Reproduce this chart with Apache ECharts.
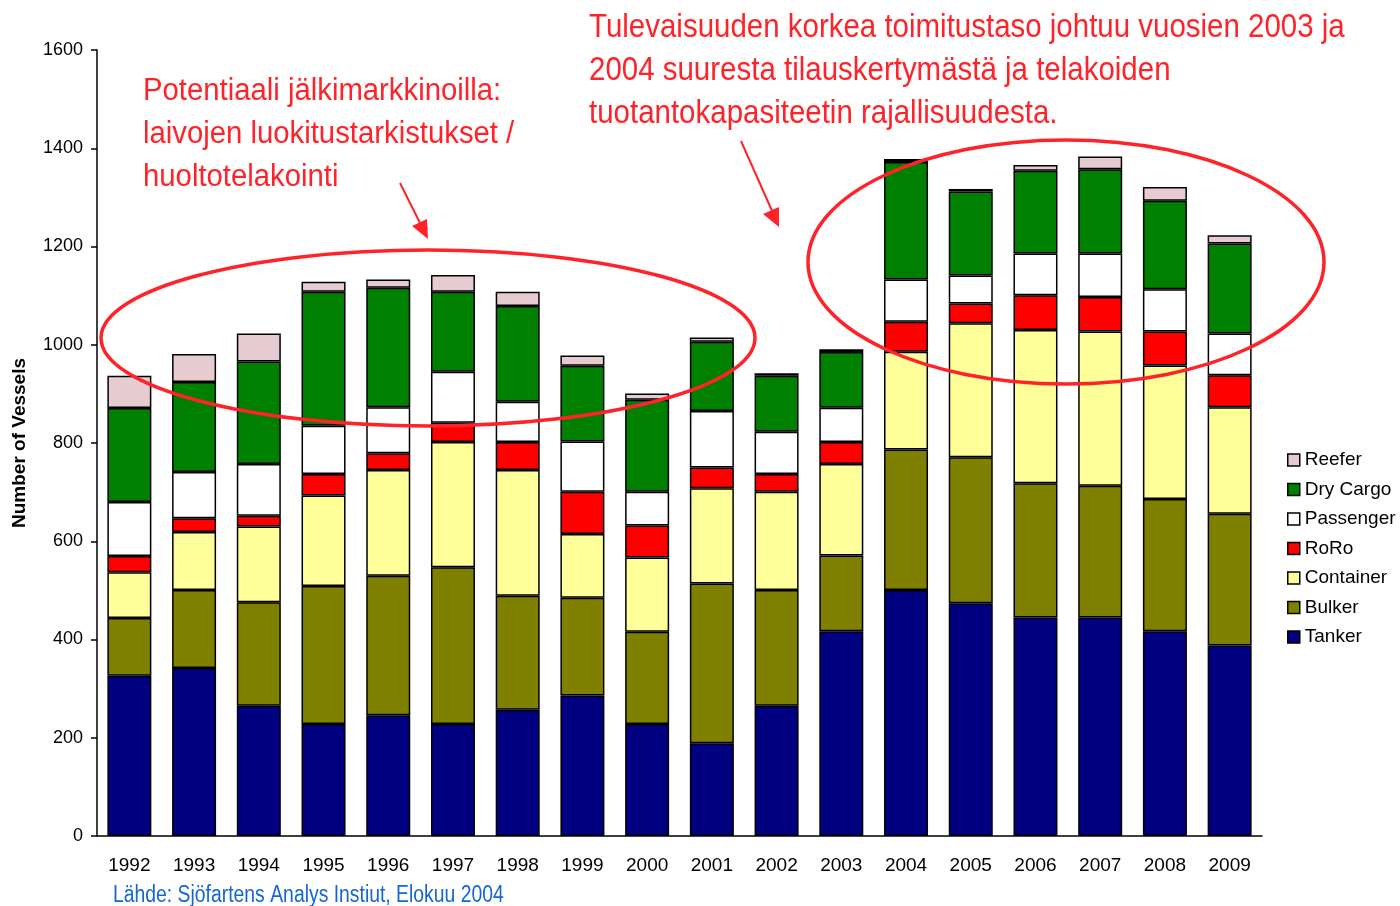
<!DOCTYPE html>
<html>
<head>
<meta charset="utf-8">
<script src="https://cdn.jsdelivr.net/npm/echarts@6/dist/echarts.min.js"></script>
<style>
  html, body { margin: 0; padding: 0; background: #fff; }
  #chart { width: 1400px; height: 906px; }
</style>
</head>
<body>
<div id="chart"></div>
<script>
  const years = ["1992", "1993", "1994", "1995", "1996", "1997", "1998", "1999", "2000",
    "2001", "2002", "2003", "2004", "2005", "2006", "2007", "2008", "2009"];

  // vessels per type, bottom to top of the stack
  const tanker    = [326, 342, 265, 228, 246, 228, 257, 286, 228, 189, 265, 417, 501, 474, 445, 445, 417, 388];
  const bulker    = [118, 159, 211, 281, 284, 319, 232, 199, 188, 325, 236, 154, 286, 297, 273, 268, 269, 268];
  const container = [93, 118, 154, 184, 215, 255, 256, 130, 151, 194, 200, 186, 199, 273, 312, 314, 272, 217];
  const roro      = [33, 28, 22, 44, 34, 39, 57, 86, 65, 42, 36, 45, 61, 40, 71, 70, 69, 65];
  const passenger = [110, 94, 105, 98, 94, 104, 82, 102, 69, 115, 86, 70, 86, 57, 85, 89, 86, 85];
  const dryCargo  = [191, 183, 209, 273, 243, 163, 195, 154, 187, 141, 114, 113, 239, 171, 168, 171, 180, 183];
  const reefer    = [66, 57, 57, 20, 17, 34, 29, 21, 13, 9, 5, 6, 6, 5, 12, 26, 28, 17];

  const yTicks = [0, 200, 400, 600, 800, 1000, 1200, 1400, 1600];

  const plain = "'Liberation Sans', Arial, sans-serif";
  const red = "#ff2228";

  const seriesDefs = [
    { name: "Tanker", data: tanker, color: "#000080" },
    { name: "Bulker", data: bulker, color: "#808000" },
    { name: "Container", data: container, color: "#ffff99" },
    { name: "RoRo", data: roro, color: "#ff0000" },
    { name: "Passenger", data: passenger, color: "#ffffff" },
    { name: "Dry Cargo", data: dryCargo, color: "#008000" },
    { name: "Reefer", data: reefer, color: "#e6cbd0" }
  ];

  // squeezed Liberation Sans stands in for Arial Narrow
  function note(x, y, text, size, lh, fill, squeeze) {
    return {
      type: "text", x: x, y: y, scaleX: squeeze, z: 100,
      style: { text: text, fill: fill, fontFamily: plain, fontSize: size, lineHeight: lh, verticalAlign: "top" }
    };
  }

  const chart = echarts.init(document.getElementById("chart"));

  const option = {
    backgroundColor: "#fff",
    animation: false,
    grid: { left: 97, right: 138, top: 50, bottom: 70, outerBoundsMode: "none" },
    legend: {
      orient: "vertical",
      left: 1282,
      top: 445,
      itemWidth: 12,
      itemHeight: 12,
      itemGap: 9.5,
      itemTextGap: 4,
      icon: "rect",
      data: ["Reefer", "Dry Cargo", "Passenger", "RoRo", "Container", "Bulker", "Tanker"],
      itemStyle: { borderColor: "#000", borderWidth: 1.5 },
      textStyle: { fontFamily: plain, fontSize: 19, color: "#000", lineHeight: 20 }
    },
    xAxis: {
      type: "category",
      data: years,
      axisLine: { lineStyle: { color: "#000", width: 1.5 } },
      axisTick: { show: false },
      axisLabel: { color: "#000", fontFamily: plain, fontSize: 19, margin: 20 }
    },
    yAxis: {
      type: "value",
      min: yTicks[0],
      max: yTicks[yTicks.length - 1],
      interval: 200,
      name: "Number of Vessels",
      nameLocation: "middle",
      nameRotate: 90,
      nameGap: 68,
      nameTextStyle: { color: "#000", fontFamily: plain, fontWeight: "bold", fontSize: 19 },
      axisLine: { show: true, lineStyle: { color: "#000", width: 1.5 } },
      axisTick: { show: true, length: 6, lineStyle: { color: "#000", width: 1.5 } },
      splitLine: { show: false },
      axisLabel: { color: "#000", fontFamily: plain, fontSize: 18, margin: 14, formatter: v => String(v) }
    },
    series: seriesDefs.map(s => ({
      name: s.name,
      type: "bar",
      stack: "vessels",
      barWidth: 44,
      data: s.data,
      itemStyle: { color: s.color, borderColor: "#000", borderWidth: 1.5 }
    })),
    graphic: [
      note(143, 70, "Potentiaali jälkimarkkinoilla:\nlaivojen luokitustarkistukset /\nhuoltotelakointi", 31, 43, red, 0.945),
      note(589, 6, "Tulevaisuuden korkea toimitustaso johtuu vuosien 2003 ja\n2004 suuresta tilauskertymästä ja telakoiden\ntuotantokapasiteetin rajallisuudesta.", 33, 43, red, 0.893),
      note(113, 883, "Lähde: Sjöfartens Analys Instiut, Elokuu 2004", 23, 26, "#1566d2", 0.842),
      {
        type: "ellipse",
        shape: { cx: 428, cy: 338, rx: 327, ry: 88 },
        style: { fill: null, stroke: red, lineWidth: 3.5 },
        z: 100
      },
      {
        type: "ellipse",
        shape: { cx: 1066, cy: 262, rx: 258, ry: 122 },
        style: { fill: null, stroke: red, lineWidth: 3.5 },
        z: 100
      },
      {
        type: "line",
        shape: { x1: 400, y1: 183, x2: 421, y2: 225 },
        style: { stroke: red, lineWidth: 2 },
        z: 100
      },
      {
        type: "polygon",
        shape: { points: [[428, 239], [412, 226], [427, 219]] },
        style: { fill: red },
        z: 100
      },
      {
        type: "line",
        shape: { x1: 741, y1: 141, x2: 773, y2: 213 },
        style: { stroke: red, lineWidth: 2 },
        z: 100
      },
      {
        type: "polygon",
        shape: { points: [[779, 227], [763, 214], [779, 207]] },
        style: { fill: red },
        z: 100
      }
    ]
  };

  chart.setOption(option);
</script>
</body>
</html>
